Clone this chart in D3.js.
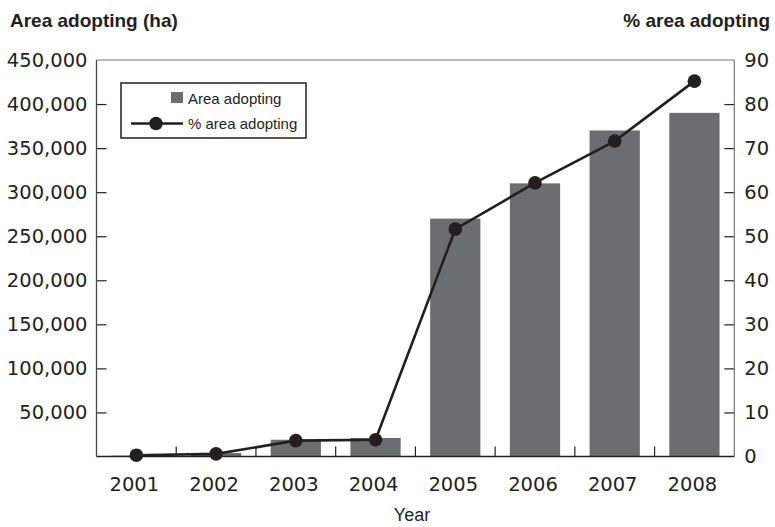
<!DOCTYPE html>
<html>
<head>
<meta charset="utf-8">
<script src="https://cdn.jsdelivr.net/npm/d3@7"></script>
<style>
  html, body { margin: 0; padding: 0; background: #fff; }
  svg { display: block; }
</style>
</head>
<body>
<svg id="chart" width="775" height="527"></svg>
<script>
// ---- data ----
const years = ["2001", "2002", "2003", "2004", "2005", "2006", "2007", "2008"];
const areaAdopting = [1000, 4000, 19000, 21000, 270000, 310000, 370000, 390000];
const pctAdopting = [0.3, 0.6, 3.6, 3.8, 51.6, 62.1, 71.6, 85.2];
const leftTicks = [50000, 100000, 150000, 200000, 250000, 300000, 350000, 400000, 450000];
const rightTicks = [0, 10, 20, 30, 40, 50, 60, 70, 80, 90];
const leftTitle = "Area adopting (ha)";
const rightTitle = "% area adopting";
const xTitle = "Year";
const legendLabels = ["Area adopting", "% area adopting"];

// ---- layout ----
const svg = d3.select("#chart");
const L = 96.5, R = 734.3, T = 60, B = 456.5;
const barColor = "#6c6d71";
const lineColor = "#231f20";
const axisColor = "#4a4a4a";
const tickFont = "'DejaVu Sans', sans-serif";
const textFont = "'Liberation Sans', Arial, sans-serif";

const xOuter = d3.scaleBand().domain(years).range([L, R]).padding(0);
const xBar = d3.scaleBand().domain(years).range([L, R]).paddingInner(0.37).paddingOuter(0.185);
const yL = d3.scaleLinear().domain([0, 450000]).range([B, T]);
const yR = d3.scaleLinear().domain([0, 90]).range([B, T]);

// bars
svg.append("g").selectAll("rect").data(years).join("rect")
  .attr("x", d => xBar(d))
  .attr("width", xBar.bandwidth())
  .attr("y", (d, i) => yL(areaAdopting[i]))
  .attr("height", (d, i) => B - yL(areaAdopting[i]))
  .attr("fill", barColor);

// frame: top line
svg.append("line").attr("x1", L).attr("x2", R).attr("y1", T).attr("y2", T)
  .attr("stroke", "#777").attr("stroke-width", 1.2);

// left axis
const leftAxis = d3.axisLeft(yL).tickValues(leftTicks)
  .tickSize(-10).tickPadding(9)
  .tickFormat(d3.format(","));
const gL = svg.append("g").attr("transform", `translate(${L},0)`).call(leftAxis);
gL.select(".domain").remove();
gL.append("line").attr("x1", 0).attr("x2", 0).attr("y1", T).attr("y2", B)
  .attr("stroke", axisColor).attr("stroke-width", 1.3);
gL.selectAll(".tick line").attr("stroke", "#222").attr("stroke-width", 1.2)
  .filter(d => d === 450000).remove();
gL.selectAll(".tick text").attr("font-family", tickFont).attr("font-size", 19.5)
  .attr("fill", "#231f20");

// right axis
const rightAxis = d3.axisRight(yR).tickValues(rightTicks)
  .tickSize(-10).tickPadding(10);
const gR = svg.append("g").attr("transform", `translate(${R},0)`).call(rightAxis);
gR.select(".domain").remove();
gR.append("line").attr("x1", 0).attr("x2", 0).attr("y1", T).attr("y2", B)
  .attr("stroke", "#777").attr("stroke-width", 1.2);
gR.selectAll(".tick line").attr("stroke", "#222").attr("stroke-width", 1.2)
  .filter(d => d === 0 || d === 90).remove();
gR.selectAll(".tick text").attr("font-family", tickFont).attr("font-size", 19.5)
  .attr("fill", "#231f20");

// bottom axis
const gB = svg.append("g").attr("transform", `translate(0,${B})`);
gB.append("line").attr("x1", L).attr("x2", R).attr("y1", 0).attr("y2", 0)
  .attr("stroke", "#222").attr("stroke-width", 1.3);
gB.selectAll("line.tk").data(years.slice(1)).join("line").attr("class", "tk")
  .attr("x1", d => xOuter(d)).attr("x2", d => xOuter(d))
  .attr("y1", 0).attr("y2", -10)
  .attr("stroke", "#222").attr("stroke-width", 1.2);
gB.selectAll("text").data(years).join("text")
  .attr("x", d => xOuter(d) + xOuter.bandwidth() / 2 - 2)
  .attr("y", 34)
  .attr("text-anchor", "middle")
  .attr("font-family", tickFont).attr("font-size", 19.5).attr("fill", "#231f20")
  .text(d => d);

// line series
const line = d3.line()
  .x((d, i) => xOuter(years[i]) + xOuter.bandwidth() / 2)
  .y(d => yR(d));
svg.append("path").datum(pctAdopting)
  .attr("d", line).attr("fill", "none")
  .attr("stroke", lineColor).attr("stroke-width", 2.6);
svg.append("g").selectAll("circle").data(pctAdopting).join("circle")
  .attr("cx", (d, i) => xOuter(years[i]) + xOuter.bandwidth() / 2)
  .attr("cy", d => yR(d))
  .attr("r", 6.8)
  .attr("fill", lineColor);

// titles
svg.append("text").attr("x", 10).attr("y", 27)
  .attr("font-family", textFont).attr("font-weight", "bold").attr("font-size", 19)
  .attr("fill", "#231f20").text(leftTitle);
svg.append("text").attr("x", 770).attr("y", 27).attr("text-anchor", "end")
  .attr("font-family", textFont).attr("font-weight", "bold").attr("font-size", 19)
  .attr("fill", "#231f20").text(rightTitle);
svg.append("text").attr("x", 412).attr("y", 521).attr("text-anchor", "middle")
  .attr("font-family", textFont).attr("font-size", 18)
  .attr("fill", "#231f20").text(xTitle);

// legend
const lg = svg.append("g");
lg.append("rect").attr("x", 121).attr("y", 83).attr("width", 185).attr("height", 55)
  .attr("fill", "#fff").attr("stroke", "#231f20").attr("stroke-width", 1.5);
lg.append("rect").attr("x", 171).attr("y", 92).attr("width", 12).attr("height", 11)
  .attr("fill", barColor);
lg.append("text").attr("x", 188).attr("y", 103.5)
  .attr("font-family", textFont).attr("font-size", 15).attr("fill", "#231f20")
  .text(legendLabels[0]);
lg.append("line").attr("x1", 131).attr("x2", 183).attr("y1", 123.5).attr("y2", 123.5)
  .attr("stroke", lineColor).attr("stroke-width", 2.6);
lg.append("circle").attr("cx", 156).attr("cy", 123.5).attr("r", 6.8).attr("fill", lineColor);
lg.append("text").attr("x", 188).attr("y", 128.5)
  .attr("font-family", textFont).attr("font-size", 15).attr("fill", "#231f20")
  .text(legendLabels[1]);
</script>
</body>
</html>
